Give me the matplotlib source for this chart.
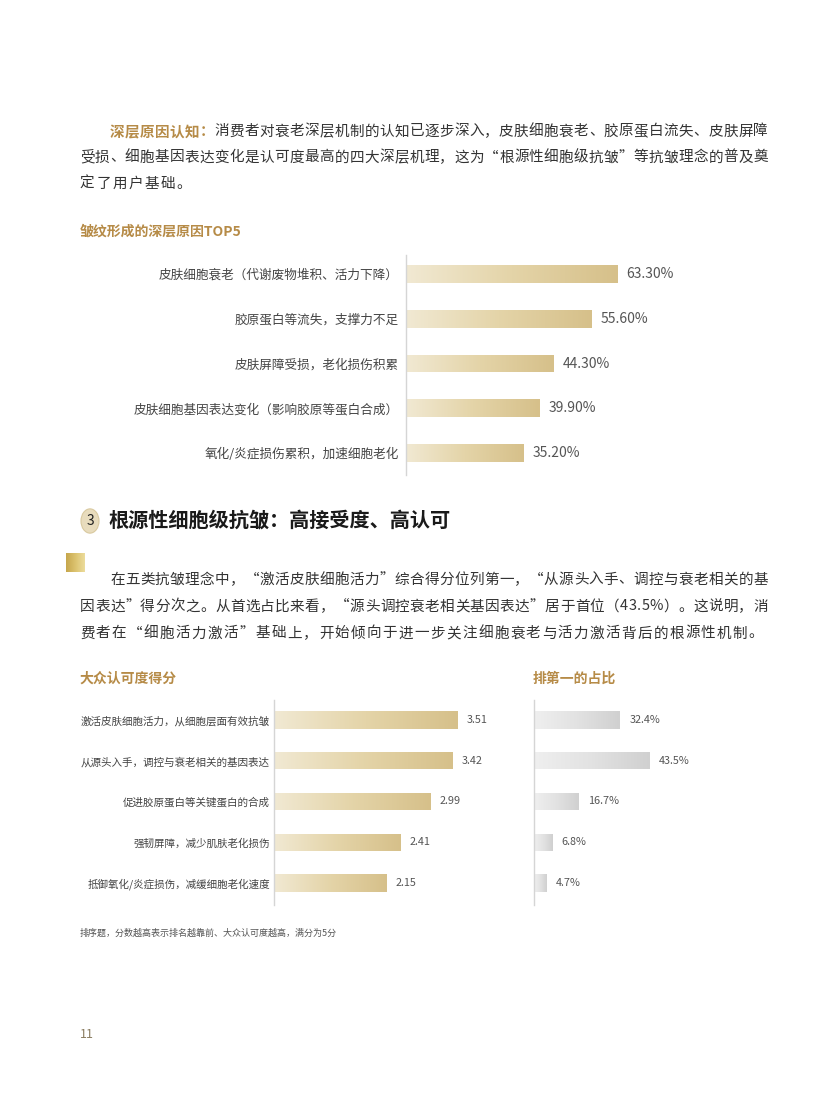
import matplotlib
matplotlib.use("Agg")
import matplotlib.pyplot as plt
import numpy as np
from matplotlib.colors import LinearSegmentedColormap
from matplotlib.font_manager import FontProperties
from matplotlib.patches import Circle

plt.rcParams['font.family'] = ['Noto Sans CJK SC', 'DejaVu Sans']

# ---------------- data ----------------
top5_labels = ["皮肤细胞衰老（代谢废物堆积、活力下降）", "胶原蛋白等流失，支撑力不足",
               "皮肤屏障受损，老化损伤积累", "皮肤细胞基因表达变化（影响胶原等蛋白合成）",
               "氧化/炎症损伤累积，加速细胞老化"]
top5_values = [63.3, 55.6, 44.3, 39.9, 35.2]

score_labels = ["激活皮肤细胞活力，从细胞层面有效抗皱", "从源头入手，调控与衰老相关的基因表达",
                "促进胶原蛋白等关键蛋白的合成", "强韧屏障，减少肌肤老化损伤",
                "抵御氧化/炎症损伤，减缓细胞老化速度"]
score_values = [3.51, 3.42, 2.99, 2.41, 2.15]
first_share = [32.4, 43.5, 16.7, 6.8, 4.7]

W, H = 816, 1100
fig = plt.figure(figsize=(W / 100, H / 100), dpi=100)
fig.patch.set_facecolor('white')
renderer = fig.canvas.get_renderer()

GOLD = '#b68b47'
TXT = '#333333'
gold_cmap = LinearSegmentedColormap.from_list('g', ['#f1e9d3', '#e4d4a8', '#d6c08a'])
gray_cmap = LinearSegmentedColormap.from_list('s', ['#efefef', '#e2e2e2', '#d0d0d0'])


def fx(x):
    return x / W


def fy(y):
    return 1 - y / H


def draw_line(segs, x0, y, x1=None, size=10.5, gap=1.0):
    chars = []
    for s, c, w in segs:
        for ch in s:
            chars.append((ch, c, w))
    widths = []
    for ch, c, w in chars:
        fp = FontProperties(family='Noto Sans CJK SC', size=size, weight=w)
        wd, _, _ = renderer.get_text_width_height_descent(ch, fp, ismath=False)
        widths.append(wd)
    if x1 is not None:
        gap = (x1 - x0 - sum(widths)) / (len(chars) - 1)
    x = x0
    for (ch, c, w), wd in zip(chars, widths):
        fig.text(fx(x), fy(y), ch, ha='left', va='center_baseline', fontsize=size,
                 color=c, fontweight=w)
        x += wd + gap


def gradient_barh(ax, ys, vals, h, cmap):
    bars = ax.barh(ys, vals, height=h, color='none', edgecolor='none', zorder=2)
    grad = np.linspace(0, 1, 256).reshape(1, -1)
    for b in bars:
        x0, y0 = b.get_x(), b.get_y()
        im = ax.imshow(grad, cmap=cmap, aspect='auto', zorder=2,
                       extent=(x0, x0 + b.get_width(), y0, y0 + b.get_height()))
        im.set_clip_path(b)
    return bars


def setup_axes(ax, labels, xmax, ylim, lab_size, pad):
    ax.set_xlim(0, xmax)
    ax.set_ylim(*ylim)
    ax.set_yticks(range(len(labels)))
    ax.set_yticklabels(labels, fontsize=lab_size, color='#444444')
    ax.tick_params(axis='y', length=0, pad=pad)
    ax.set_xticks([])
    for s in ['top', 'right', 'bottom']:
        ax.spines[s].set_visible(False)
    ax.spines['left'].set_color('#d5d5d5')
    ax.spines['left'].set_linewidth(1.0)
    ax.patch.set_alpha(0)


# ---------------- paragraph 1 ----------------
draw_line([("深层原因认知：", GOLD, 'bold'),
           ("消费者对衰老深层机制的认知已逐步深入，皮肤细胞衰老、胶原蛋白流失、皮肤屏障", TXT, 'normal')],
          110, 130, 768)
draw_line([("受损、细胞基因表达变化是认可度最高的四大深层机理，这为“根源性细胞级抗皱”等抗皱理念的普及奠", TXT, 'normal')],
          80, 156, 768)
draw_line([("定了用户基础。", TXT, 'normal')], 80, 182, None, gap=1.5)

fig.text(fx(80), fy(230), "皱纹形成的深层原因TOP5", fontsize=10, color=GOLD,
         fontweight='bold', ha='left', va='center_baseline')

# ---------------- chart 1 ----------------
ax1_x0, ax1_y0, ax1_y1 = 405.5, 255, 475
ax1 = fig.add_axes([fx(ax1_x0), fy(ax1_y1), 333.8 / W, (ax1_y1 - ax1_y0) / H])
ys = np.arange(len(top5_values))
gradient_barh(ax1, ys, top5_values, 0.40, gold_cmap)
setup_axes(ax1, top5_labels, 100, (4.49, -0.425), 9.1, 5.0)
for y, v in zip(ys, top5_values):
    ax1.annotate(f"{v:.2f}%", (v, y), xytext=(7, 0), textcoords='offset points',
                 ha='left', va='center', fontsize=10, color='#555555')

# ---------------- section heading ----------------
fig.patches.append(Circle((fx(90), fy(521)), 9.0 / W, transform=fig.transFigure,
                          facecolor='#e8dcbd', edgecolor='#d9c99f', lw=0.8))
fig.text(fx(90), fy(521), "3", fontsize=10, color='#222222', ha='center', va='center')
fig.text(fx(108), fy(521), "根源性细胞级抗皱：高接受度、高认可", fontsize=14.5,
         color='#1a1a1a', fontweight='bold', ha='left', va='center')

# gold square
axs = fig.add_axes([fx(66), fy(572), 19 / W, 19 / H])
axs.imshow(np.linspace(0, 1, 64).reshape(1, -1),
           cmap=LinearSegmentedColormap.from_list('sq', ['#c6a64c', '#dcc36f', '#ecdc9c']),
           aspect='auto')
axs.axis('off')

# ---------------- paragraph 2 ----------------
draw_line([("在五类抗皱理念中，“激活皮肤细胞活力”综合得分位列第一，“从源头入手、调控与衰老相关的基", TXT, 'normal')],
          110, 578, 768)
draw_line([("因表达”得分次之。从首选占比来看，“源头调控衰老相关基因表达”居于首位（43.5%）。这说明，消", TXT, 'normal')],
          80, 605, 768)
draw_line([("费者在“细胞活力激活”基础上，开始倾向于进一步关注细胞衰老与活力激活背后的根源性机制。", TXT, 'normal')],
          80, 632, None, gap=1.3)

fig.text(fx(80), fy(677), "大众认可度得分", fontsize=10, color=GOLD,
         fontweight='bold', ha='left', va='center_baseline')
fig.text(fx(533), fy(677), "排第一的占比", fontsize=10, color=GOLD,
         fontweight='bold', ha='left', va='center_baseline')

# ---------------- chart 2 (scores) ----------------
c2_y0, c2_y1 = 700, 905
ylim2 = (4 + 22 / 40.75, -20 / 40.75)
ax2 = fig.add_axes([fx(273.5), fy(c2_y1), 261.5 / W, (c2_y1 - c2_y0) / H])
ys2 = np.arange(len(score_values))
gradient_barh(ax2, ys2, score_values, 0.42, gold_cmap)
setup_axes(ax2, score_labels, 5, ylim2, 7.6, 2.5)
for y, v in zip(ys2, score_values):
    ax2.annotate(f"{v:.2f}", (v, y), xytext=(7, 0), textcoords='offset points',
                 ha='left', va='center', fontsize=7.8, color='#555555')

# ---------------- chart 3 (first choice share) ----------------
ax3 = fig.add_axes([fx(534), fy(c2_y1), 265 / W, (c2_y1 - c2_y0) / H])
gradient_barh(ax3, ys2, first_share, 0.42, gray_cmap)
setup_axes(ax3, [""] * 5, 100, ylim2, 8, 0)
for y, v in zip(ys2, first_share):
    ax3.annotate(f"{v:.1f}%", (v, y), xytext=(7, 0), textcoords='offset points',
                 ha='left', va='center', fontsize=7.8, color='#555555')

# footnote & page number
fig.text(fx(80), fy(933), "排序题，分数越高表示排名越靠前、大众认可度越高，满分为5分",
         fontsize=6.5, color='#555555', ha='left', va='center')
fig.text(fx(80), fy(1034), "11", fontsize=9, color='#8a7c60', ha='left', va='center')

fig.savefig("out.png", dpi=100, facecolor='white')
